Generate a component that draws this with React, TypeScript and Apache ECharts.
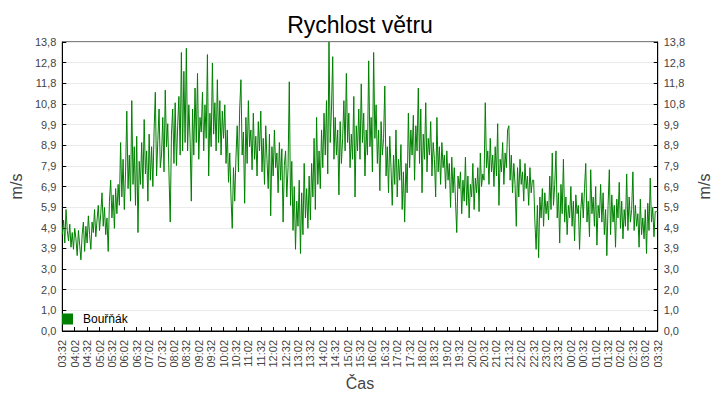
import React, { useEffect, useRef } from "react";
import * as echarts from "echarts";

// ---- data ----
const startTime = "03:32";
const stepMinutes = 3;
const labelEvery = 10; // one label per 30 minutes
const seriesName = "Bouřňák";
const yTickLabels = ["0,0", "1,0", "2,0", "3,0", "3,9", "4,9", "5,9", "6,9", "7,9", "8,9", "9,9", "10,8", "11,8", "12,8", "13,8"];
const yMax = 13.8;

// wind speed (m/s), one value every 3 minutes from 03:32 to 03:32 next day
const h00 = [4.6, 5.3, 4.2, 5.8, 4.8, 4.3, 5.1, 4.0, 4.7, 3.9, 4.9, 4.4, 3.6, 4.8, 4.1, 3.4, 4.6, 5.2, 3.8, 5.0];
const h01 = [4.2, 5.5, 4.6, 3.9, 5.2, 4.7, 5.8, 4.5, 5.3, 6.0, 4.8, 5.6, 6.6, 5.0, 5.9, 4.6, 5.4, 3.8, 6.2, 7.2];
const h02 = [5.4, 6.5, 4.9, 6.8, 5.6, 7.0, 6.0, 9.0, 6.4, 8.2, 5.8, 7.6, 10.5, 6.8, 8.4, 6.2, 11.0, 7.0, 8.8, 6.0];
const h03 = [9.3, 4.7, 8.1, 7.0, 9.0, 6.8, 10.1, 7.5, 8.6, 6.2, 9.4, 7.2, 8.8, 6.9, 9.6, 11.4, 7.4, 9.1, 10.6, 7.8];
const h04 = [8.4, 10.2, 7.6, 11.5, 8.8, 9.9, 7.5, 5.2, 9.4, 10.6, 8.0, 10.9, 7.9, 9.8, 11.2, 8.4, 13.3, 8.6, 12.4, 9.0];
const h05 = [13.5, 8.6, 10.8, 9.2, 6.2, 10.6, 8.4, 11.6, 9.0, 12.3, 8.2, 10.2, 9.5, 11.4, 8.6, 10.8, 9.2, 13.2, 7.4, 10.4];
const h06 = [8.8, 12.8, 9.4, 10.9, 8.6, 12.0, 9.0, 11.0, 8.4, 10.5, 9.2, 10.8, 8.0, 9.6, 7.1, 8.5, 6.4, 4.9, 7.8, 6.2];
const h07 = [8.3, 9.8, 7.6, 10.6, 12.0, 8.4, 9.5, 6.1, 10.2, 8.0, 11.0, 8.8, 9.6, 7.7, 10.4, 8.2, 9.3, 7.4, 10.0, 8.6];
const h08 = [10.5, 7.6, 9.2, 7.0, 9.8, 8.2, 6.8, 9.4, 5.5, 8.8, 7.4, 9.6, 7.8, 8.5, 6.6, 9.0, 7.2, 8.7, 5.2, 7.9];
const h09 = [8.6, 6.4, 7.8, 11.9, 6.0, 8.1, 4.8, 6.9, 3.9, 6.2, 5.0, 7.2, 3.7, 6.6, 4.6, 8.0, 5.4, 6.8, 4.9, 7.4];
const h10 = [5.3, 8.0, 6.4, 9.2, 5.8, 10.2, 7.0, 8.6, 6.8, 9.6, 7.8, 10.4, 8.4, 11.0, 7.5, 13.8, 9.0, 10.6, 13.1, 8.2];
const h11 = [10.2, 8.4, 9.6, 6.5, 10.0, 8.0, 9.2, 11.0, 8.6, 12.3, 9.0, 10.4, 7.8, 9.4, 8.2, 11.2, 6.4, 9.8, 8.6, 10.6];
const h12 = [8.2, 11.8, 9.0, 10.4, 7.4, 9.6, 8.4, 12.9, 8.8, 10.2, 7.6, 13.3, 9.2, 10.8, 8.0, 9.6, 6.7, 10.0, 8.4, 9.2];
const h13 = [11.7, 7.4, 8.8, 6.6, 9.3, 7.8, 6.0, 8.4, 7.0, 9.6, 6.4, 8.2, 7.2, 8.9, 5.8, 7.6, 5.2, 8.0, 6.6, 10.4];
const h14 = [7.8, 9.6, 8.4, 10.3, 7.2, 9.8, 8.6, 11.6, 8.0, 10.6, 6.6, 9.4, 8.2, 10.9, 7.6, 9.2, 8.4, 10.0, 7.4, 9.0];
const h15 = [8.2, 6.4, 10.2, 7.6, 8.8, 7.0, 9.0, 7.8, 8.4, 6.8, 8.6, 7.2, 8.0, 5.9, 8.3, 6.6, 7.8, 6.2, 4.7, 7.4];
const h16 = [6.8, 7.6, 5.6, 7.2, 6.2, 8.3, 6.0, 7.4, 5.4, 7.0, 6.4, 8.0, 5.8, 7.3, 6.6, 7.8, 5.7, 8.5, 6.9, 7.5];
const h17 = [7.2, 10.9, 7.8, 8.6, 7.0, 9.2, 7.6, 8.4, 6.9, 8.8, 7.4, 9.9, 6.0, 8.2, 7.6, 9.0, 7.0, 8.5, 7.8, 9.6];
const h18 = [9.8, 7.2, 8.4, 6.6, 8.0, 7.0, 5.0, 7.8, 6.4, 8.2, 7.0, 7.6, 6.2, 8.0, 6.8, 7.4, 6.0, 7.8, 6.6, 7.2];
const h19 = [7.2, 5.2, 3.9, 6.0, 3.5, 6.4, 5.4, 6.8, 5.0, 6.6, 5.6, 6.2, 5.3, 7.4, 5.8, 8.5, 6.0, 7.0, 8.6, 5.4];
const h20 = [6.6, 4.2, 7.0, 5.6, 8.2, 5.2, 6.4, 4.6, 6.0, 5.4, 6.9, 5.0, 6.2, 4.3, 6.5, 5.6, 6.0, 3.9, 5.8, 6.6];
const h21 = [5.4, 6.8, 8.0, 5.2, 6.2, 4.5, 7.7, 5.6, 6.4, 5.0, 6.9, 4.1, 6.0, 5.4, 7.0, 5.2, 6.6, 4.6, 5.8, 3.6];
const h22 = [6.0, 7.7, 4.6, 6.5, 5.2, 6.0, 4.0, 6.3, 5.4, 7.1, 4.9, 6.2, 4.4, 5.8, 5.0, 7.5, 4.8, 6.4, 5.2, 5.8];
const h23 = [7.6, 4.8, 6.0, 5.0, 5.6, 4.0, 6.3, 4.6, 5.4, 4.4, 5.8, 3.7, 6.1, 4.8, 7.3, 5.2, 5.9, 4.5, 5.7, 5.7, 5.7];

const windSpeed = [
  ...h00, ...h01, ...h02, ...h03, ...h04, ...h05, ...h06, ...h07,
  ...h08, ...h09, ...h10, ...h11, ...h12, ...h13, ...h14, ...h15,
  ...h16, ...h17, ...h18, ...h19, ...h20, ...h21, ...h22, ...h23,
];

function buildTimes(start: string, step: number, count: number): string[] {
  const [hh, mm] = start.split(":").map(Number);
  const base = hh * 60 + mm;
  const out: string[] = [];
  for (let i = 0; i < count; i++) {
    const t = (base + i * step) % 1440;
    const h = Math.floor(t / 60);
    const m = t % 60;
    out.push(String(h).padStart(2, "0") + ":" + String(m).padStart(2, "0"));
  }
  return out;
}

const times = buildTimes(startTime, stepMinutes, windSpeed.length);

const FONT = "'Liberation Sans', Arial, sans-serif";
const yStep = yMax / (yTickLabels.length - 1);

export default function App() {
  const ref = useRef<HTMLDivElement>(null);
  useEffect(() => {
    if (!ref.current) return;
    const chart = echarts.init(ref.current, undefined, { renderer: "svg" });
    const yLabelFmt = (v: number) => {
      const idx = Math.round(v / yStep);
      return yTickLabels[idx] ?? "";
    };
    const yAxisCommon = {
      type: "value" as const,
      min: 0,
      max: yMax,
      interval: yStep,
      name: "m/s",
      nameLocation: "middle" as const,
      nameRotate: 90,
      nameTextStyle: { fontSize: 16, color: "#444", fontFamily: FONT },
      axisLine: { show: true, lineStyle: { color: "#000", width: 1 } },
      axisTick: { show: true, inside: true, length: 4, lineStyle: { color: "#000" } },
      axisLabel: { color: "#444", fontSize: 11, fontFamily: FONT, margin: 6, formatter: yLabelFmt },
      splitLine: { show: true, lineStyle: { color: "#ebebeb", width: 1 } },
    };
    chart.setOption({
      animation: false,
      backgroundColor: "#fff",
      title: {
        text: "Rychlost větru",
        left: "center",
        top: 8,
        textStyle: { fontSize: 23, fontWeight: "normal", color: "#000", fontFamily: FONT },
      },
      legend: {
        data: [seriesName],
        left: 62,
        top: 313,
        padding: 0,
        itemWidth: 11,
        itemHeight: 11,
        icon: "rect",
        textStyle: { fontSize: 12, color: "#000", fontFamily: FONT, padding: [0, 0, 0, 5] },
      },
      grid: {
        left: 55,
        right: 56,
        top: 42,
        bottom: 69,
        show: true,
        borderColor: "#000",
        borderWidth: 1,
        backgroundColor: "transparent",
      },
      xAxis: {
        type: "category",
        data: times,
        boundaryGap: false,
        name: "Čas",
        nameLocation: "middle",
        nameGap: 42,
        nameTextStyle: { fontSize: 16, color: "#444", fontFamily: FONT },
        axisLine: { show: true, lineStyle: { color: "#000", width: 1 } },
        axisTick: { show: true, inside: true, length: 4, interval: labelEvery - 1, lineStyle: { color: "#000" } },
        axisLabel: { interval: labelEvery - 1, rotate: 90, color: "#444", fontSize: 11, fontFamily: FONT, margin: 9 },
        splitLine: { show: false },
      },
      yAxis: [
        { ...yAxisCommon, position: "left", nameGap: 31 },
        { ...yAxisCommon, position: "right", nameGap: 37 },
      ],
      series: [
        {
          name: seriesName,
          type: "line",
          yAxisIndex: 0,
          data: windSpeed,
          showSymbol: false,
          symbol: "none",
          lineStyle: { color: "#008000", width: 1 },
          itemStyle: { color: "#008000" },
        },
      ],
    });
    return () => chart.dispose();
  }, []);
  return (
    <div
      ref={ref}
      style={{ position: "fixed", left: 0, top: 0, width: 720, height: 400 }}
    />
  );
}
